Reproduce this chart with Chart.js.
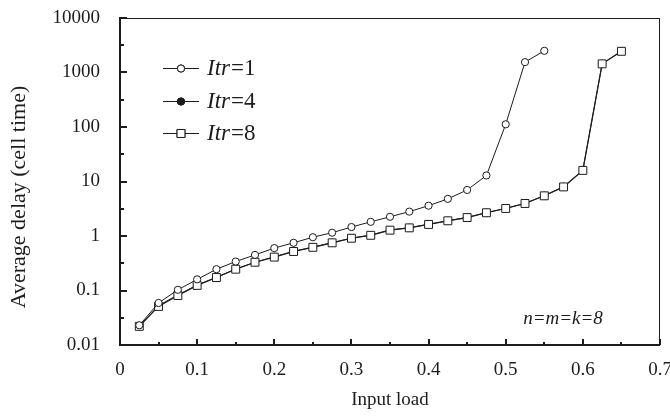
<!DOCTYPE html>
<html>
<head>
<meta charset="utf-8">
<script src="https://cdn.jsdelivr.net/npm/chart.js@4/dist/chart.umd.min.js"></script>
<style>
html,body{margin:0;padding:0;background:#fff;}
#c{display:block;}
</style>
</head>
<body>
<canvas id="c" width="670" height="420"></canvas>
<script>
// ---- data ----
const loadsItr1 = [0.025,0.05,0.075,0.1,0.125,0.15,0.175,0.2,0.225,0.25,0.275,0.3,0.325,0.35,0.375,0.4,0.425,0.45,0.475,0.5,0.525,0.55];
const delayItr1 = [0.023,0.059,0.103,0.16,0.246,0.34,0.45,0.6,0.75,0.95,1.15,1.46,1.82,2.25,2.8,3.6,4.8,7.0,12.9,112,1550,2500];
const loadsItr4 = [0.025,0.05,0.075,0.1,0.125,0.15,0.175,0.2,0.225,0.25,0.275,0.3,0.325,0.35,0.375,0.4,0.425,0.45,0.475,0.5,0.525,0.55,0.575,0.6,0.625,0.65];
const delayItr4 = [0.022,0.053,0.083,0.126,0.175,0.248,0.33,0.415,0.525,0.625,0.755,0.915,1.04,1.29,1.42,1.64,1.91,2.2,2.69,3.22,3.98,5.5,8.0,16.2,1450,2460];
const loadsItr8 = [0.025,0.05,0.075,0.1,0.125,0.15,0.175,0.2,0.225,0.25,0.275,0.3,0.325,0.35,0.375,0.4,0.425,0.45,0.475,0.5,0.525,0.55,0.575,0.6,0.625,0.65];
const delayItr8 = [0.022,0.051,0.081,0.124,0.173,0.246,0.33,0.41,0.52,0.62,0.75,0.91,1.03,1.28,1.41,1.63,1.9,2.18,2.67,3.2,3.95,5.46,7.96,16,1440,2450];
const seriesNames = ['1','4','8'];
const xTickValues = [0,0.1,0.2,0.3,0.4,0.5,0.6,0.7];
const yTickValues = [0.01,0.1,1,10,100,1000,10000];
const xTitle = 'Input load';
const yTitle = 'Average delay (cell time)';
const noteText = 'n=m=k=8';

const INK = '#1c1c1c';
const SERIF = "'Liberation Serif', 'Times New Roman', serif";

function pts(xs, ys){ return xs.map((x,i)=>({x:x, y:ys[i]})); }

const datasets = [
  {label:'Itr=1', data:pts(loadsItr1, delayItr1), borderColor:INK, borderWidth:1, pointStyle:'circle', pointRadius:3.6, pointBackgroundColor:'#fff', pointBorderColor:INK, pointBorderWidth:1, order:0},
  {label:'Itr=4', data:pts(loadsItr4, delayItr4), borderColor:INK, borderWidth:1, pointStyle:'circle', pointRadius:3.6, pointBackgroundColor:INK, pointBorderColor:INK, pointBorderWidth:1, order:2},
  {label:'Itr=8', data:pts(loadsItr8, delayItr8), borderColor:INK, borderWidth:1.2, pointStyle:'rect', pointRadius:5.6, pointBackgroundColor:'#fff', pointBorderColor:INK, pointBorderWidth:1, order:1}
];

const framePlugin = {
  id:'frame',
  afterDraw(chart){
    const ctx = chart.ctx, a = chart.chartArea;
    const xs = chart.scales.x, ys = chart.scales.y;
    ctx.save();
    ctx.strokeStyle = INK;
    ctx.lineWidth = 1;
    ctx.beginPath();
    ctx.moveTo(a.left, a.top+0.5); ctx.lineTo(a.right, a.top+0.5);
    ctx.moveTo(a.right-0.5, a.top); ctx.lineTo(a.right-0.5, a.bottom);
    ctx.stroke();
    ctx.lineWidth = 2;
    ctx.beginPath();
    ctx.moveTo(a.left, a.top-1); ctx.lineTo(a.left, a.bottom+1);
    ctx.moveTo(a.left-1, a.bottom); ctx.lineTo(a.right, a.bottom);
    ctx.stroke();
    ctx.lineWidth = 2;
    ctx.beginPath();
    for (let i=1;i<=14;i++){
      const v = i*0.05;
      const px = Math.round(xs.getPixelForValue(v));
      const len = (i%2===0) ? 6 : 3;
      ctx.moveTo(px, a.bottom); ctx.lineTo(px, a.bottom-len);
    }
    for (let e=-2;e<=4;e++){
      const py = Math.round(ys.getPixelForValue(Math.pow(10,e)));
      ctx.moveTo(a.left, py); ctx.lineTo(a.left+7, py);
      if (e<4){
        const pm = Math.round(ys.getPixelForValue(Math.pow(10,e+0.5)));
        ctx.moveTo(a.left, pm); ctx.lineTo(a.left+4, pm);
      }
    }
    ctx.stroke();

    // legend
    const rows = [68, 101, 133];
    const lx0 = 163, lx1 = 199, mx = 181, tx = 207;
    datasets.forEach((ds, i)=>{
      const y = rows[i];
      ctx.lineWidth = 1;
      ctx.strokeStyle = INK;
      ctx.beginPath(); ctx.moveTo(lx0, y+0.5); ctx.lineTo(lx1, y+0.5); ctx.stroke();
      Chart.helpers.drawPoint(ctx, {pointStyle:ds.pointStyle, radius:ds.pointRadius, borderWidth:1}, mx, y+0.5);
      ctx.fillStyle = ds.pointBackgroundColor; ctx.strokeStyle = INK;
      ctx.fill(); ctx.stroke();
      ctx.fillStyle = INK;
      ctx.textBaseline = 'middle';
      ctx.textAlign = 'left';
      ctx.font = 'italic 23px ' + SERIF;
      ctx.fillText('Itr', tx, y+1);
      const w = ctx.measureText('Itr').width;
      ctx.font = '23px ' + SERIF;
      ctx.fillText('=' + seriesNames[i], tx + w + 1, y+1);
    });

    // annotation
    ctx.font = 'italic 19px ' + SERIF;
    ctx.textAlign = 'center';
    ctx.textBaseline = 'middle';
    ctx.fillStyle = INK;
    ctx.fillText(noteText, 563, 319);

    // y-axis title
    ctx.save();
    ctx.translate(19, 197);
    ctx.rotate(-Math.PI/2);
    ctx.font = '22px ' + SERIF;
    ctx.textAlign = 'center';
    ctx.textBaseline = 'middle';
    ctx.fillText(yTitle, 0, 0);
    ctx.restore();
    ctx.restore();
  }
};

new Chart(document.getElementById('c'), {
  type:'line',
  data:{datasets:datasets},
  options:{
    responsive:false,
    animation:false,
    devicePixelRatio:1,
    layout:{padding:{top:18,right:10,left:0,bottom:0}},
    plugins:{legend:{display:false}, tooltip:{enabled:false}},
    elements:{line:{tension:0}},
    scales:{
      x:{
        type:'linear', min:0, max:0.7,
        afterBuildTicks(s){ s.ticks = xTickValues.map(v=>({value:v})); },
        afterFit(s){ s.height = 75; s.paddingLeft = 0; s.paddingRight = 0; },
        grid:{display:false, drawTicks:false},
        border:{display:false},
        ticks:{color:INK, font:{family:SERIF, size:19}, padding:14, maxRotation:0, autoSkip:false,
          callback:(v)=> v===0 ? '0' : Number(v).toFixed(1)},
        title:{display:true, text:xTitle, color:INK, font:{family:SERIF, size:19}, padding:{top:0,bottom:9}}
      },
      y:{
        type:'logarithmic', min:0.01, max:10000,
        afterBuildTicks(s){ s.ticks = yTickValues.map(v=>({value:v})); },
        afterFit(s){ s.width = 120; s.paddingTop = 0; s.paddingBottom = 0; },
        grid:{display:false, drawTicks:false},
        border:{display:false},
        ticks:{color:INK, font:{family:SERIF, size:19}, padding:20, autoSkip:false,
          callback:(v)=> String(v)},
        title:{display:false}
      }
    }
  },
  plugins:[framePlugin]
});
</script>
</body>
</html>
